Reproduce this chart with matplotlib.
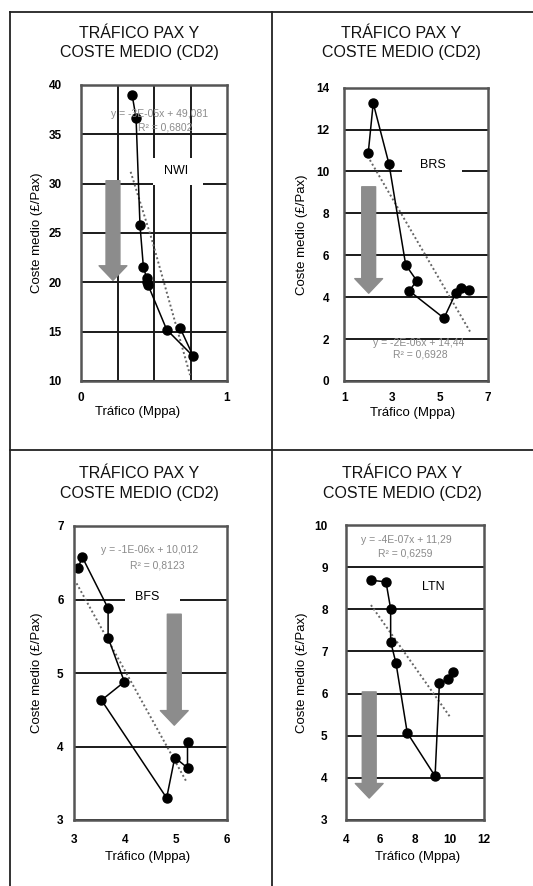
import matplotlib.pyplot as plt
from matplotlib.patches import Rectangle, FancyArrowPatch
from matplotlib.lines import Line2D

plt.rcParams['font.family'] = ['Liberation Sans', 'DejaVu Sans']

W, H = 533, 886

title_1 = 'TRÁFICO PAX Y'
title_2 = 'COSTE MEDIO (CD2)'
x_label = 'Tráfico (Mppa)'
y_label = 'Coste medio (£/Pax)'

# NWI
nwi_x = [0.35, 0.377, 0.404, 0.427, 0.45, 0.455, 0.46, 0.587, 0.769, 0.678]
nwi_y = [39.0, 36.7, 25.8, 21.6, 20.4, 20.0, 19.7, 15.2, 12.5, 15.4]
nwi_trend_x = [0.34, 0.486, 0.747]
nwi_trend_y = [31.2, 24.3, 10.6]
nwi_eq = ['y = -3E-05x + 49,081', 'R² = 0,6802']

# BRS
brs_x = [2.00, 2.21, 2.87, 3.57, 4.03, 3.72, 5.17, 5.66, 5.88, 6.23]
brs_y = [10.87, 13.26, 10.36, 5.54, 4.79, 4.30, 3.0, 4.19, 4.44, 4.33]
brs_trend_x = [2.07, 6.26]
brs_trend_y = [10.55, 2.36]
brs_eq = ['y = -2E-06x + 14,44', 'R² = 0,6928']

# BFS
bfs_x = [3.085, 3.16, 3.67, 3.67, 3.99, 3.54, 4.82, 4.98, 5.23, 5.23]
bfs_y = [6.43, 6.58, 5.88, 5.48, 4.88, 4.63, 3.30, 3.85, 3.71, 4.06]
bfs_trend_x = [3.05, 5.21]
bfs_trend_y = [6.22, 3.52]
bfs_eq = ['y = -1E-06x + 10,012', 'R² = 0,8123']

# LTN
ltn_x = [5.46, 6.33, 6.60, 6.60, 6.91, 7.56, 9.17, 9.42, 9.93, 10.22]
ltn_y = [8.69, 8.65, 8.01, 7.23, 6.72, 5.07, 4.04, 6.24, 6.34, 6.52]
ltn_trend_x = [5.46, 10.03]
ltn_trend_y = [8.10, 5.45]
ltn_eq = ['y = -4E-07x + 11,29', 'R² = 0,6259']

panels = [
    dict(name='NWI', x=nwi_x, y=nwi_y, tx=nwi_trend_x, ty=nwi_trend_y, eq=nwi_eq,
         box=(81, 85, 227, 381), xlim=(0, 1), ylim=(10, 40),
         xticks=[0, 1], xgrid=[0.25, 0.5, 0.75], yticks=[10, 15, 20, 25, 30, 35, 40],
         title_x=139, title_y=33, eq_pos=[(160, 114), (165, 128)],
         lab=(0.651, 0.709), lab_box=(0.493, 0.662, 0.343, 0.091),
         arrow=(0.219, 30.3, 20.2), ypad=14, xpad=8, ylab=-0.30, xlab=(0.39, -0.105)),
    dict(name='BRS', x=brs_x, y=brs_y, tx=brs_trend_x, ty=brs_trend_y, eq=brs_eq,
         box=(344.3, 87.7, 487.7, 381), xlim=(1, 7), ylim=(0, 14),
         xticks=[1, 3, 5, 7], xgrid=[3, 5], yticks=list(range(0, 15, 2)),
         title_x=401, title_y=33, eq_pos=[(419, 343), (420, 355)],
         lab=(0.619, 0.736), lab_box=(0.403, 0.678, 0.419, 0.116),
         arrow=(2.02, 9.27, 4.19), ypad=11, xpad=8, ylab=-0.297, xlab=(0.479, -0.109)),
    dict(name='BFS', x=bfs_x, y=bfs_y, tx=bfs_trend_x, ty=bfs_trend_y, eq=bfs_eq,
         box=(74, 526, 226.7, 820), xlim=(3, 6), ylim=(3, 7),
         xticks=[3, 4, 5, 6], xgrid=[4, 5], yticks=[3, 4, 5, 6, 7],
         title_x=139, title_y=473, eq_pos=[(150, 550), (157, 566)],
         lab=(0.478, 0.759), lab_box=(0.334, 0.724, 0.36, 0.099),
         arrow=(4.97, 5.8, 4.29), ypad=7.5, xpad=10, ylab=-0.244, xlab=(0.485, -0.127)),
    dict(name='LTN', x=ltn_x, y=ltn_y, tx=ltn_trend_x, ty=ltn_trend_y, eq=ltn_eq,
         box=(345.7, 525, 484, 820), xlim=(4, 12), ylim=(3, 10),
         xticks=[4, 6, 8, 10, 12], xgrid=[6, 8, 10], yticks=list(range(3, 11)),
         title_x=402, title_y=473, eq_pos=[(406, 540), (405, 553)],
         lab=(0.631, 0.79), lab_box=(0.526, 0.753, 0.217, 0.071),
         arrow=(5.36, 6.04, 3.52), ypad=13, xpad=10, ylab=-0.318, xlab=(0.523, -0.127)),
]

fig = plt.figure(figsize=(W / 100, H / 100), dpi=100)
fig.patch.set_facecolor('white')


def fx(px):
    return px / W


def fy(py):
    return 1 - py / H


# frame around the four charts
frame = dict(color='#222222', lw=1.3, transform=fig.transFigure)
fig.add_artist(Line2D([fx(10), 1], [fy(12), fy(12)], **frame))
fig.add_artist(Line2D([fx(10), fx(10)], [fy(12), 0], **frame))
fig.add_artist(Line2D([fx(271.5), fx(271.5)], [fy(12), 0], **frame))
fig.add_artist(Line2D([fx(10), 1], [fy(450), fy(450)], **frame))

for p in panels:
    l, t, r, b = p['box']
    ax = fig.add_axes([fx(l), fy(b), (r - l) / W, (b - t) / H])
    ax.set_xlim(*p['xlim'])
    ax.set_ylim(*p['ylim'])
    ax.set_xticks(p['xticks'])
    ax.set_xticks(p['xgrid'], minor=True)
    ax.set_yticks(p['yticks'])
    ax.set_axisbelow(True)
    ax.grid(False)
    ax.yaxis.grid(True, color='#1a1a1a', lw=1.4)
    ax.xaxis.grid(True, which='minor', color='#1a1a1a', lw=1.4)
    ax.tick_params(which='both', length=0)
    ax.tick_params(axis='y', pad=p['ypad'], labelsize=8.5)
    ax.tick_params(axis='x', pad=p['xpad'], labelsize=8.5)
    for lab in ax.get_xticklabels() + ax.get_yticklabels():
        lab.set_fontweight('bold')
    for s in ax.spines.values():
        s.set_color('#555555')
        s.set_linewidth(1.8)

    ax.set_xlabel(x_label, fontsize=9.5, va='center')
    ax.set_ylabel(y_label, fontsize=9.5, va='center')
    ax.xaxis.set_label_coords(*p['xlab'])
    ax.yaxis.set_label_coords(p['ylab'], 0.5)

    # white box behind the airport label
    bx, by, bw, bh = p['lab_box']
    ax.add_patch(Rectangle((bx, by), bw, bh, transform=ax.transAxes,
                           facecolor='white', edgecolor='none', zorder=1.5))
    ax.text(*p['lab'], p['name'], transform=ax.transAxes, ha='center', va='center',
            fontsize=9, zorder=3)

    ax_x, y_top, y_tip = p['arrow']
    ax.add_patch(FancyArrowPatch((ax_x, y_top), (ax_x, y_tip),
                                 arrowstyle='simple,head_length=1.05,head_width=2.0,tail_width=1.0',
                                 mutation_scale=10, color='#8c8c8c', shrinkA=0, shrinkB=0,
                                 zorder=1.8))

    ax.plot(p['tx'], p['ty'], color='#666666', lw=1.4, ls=(0, (1, 1.3)), zorder=2)
    ax.plot(p['x'], p['y'], color='black', lw=1.1, marker='o', markersize=6.5,
            markerfacecolor='black', zorder=2.5)

    for (ex, ey), line in zip(p['eq_pos'], p['eq']):
        fig.text(fx(ex), fy(ey), line, ha='center', va='center', fontsize=7.5,
                 color='#8a8a8a')

    fig.text(fx(p['title_x']), fy(p['title_y']), title_1, ha='center', va='center',
             fontsize=11.5, color='#111111')
    fig.text(fx(p['title_x']), fy(p['title_y'] + 20), title_2, ha='center', va='center',
             fontsize=11.5, color='#111111')

fig.savefig('out.png', dpi=100)
